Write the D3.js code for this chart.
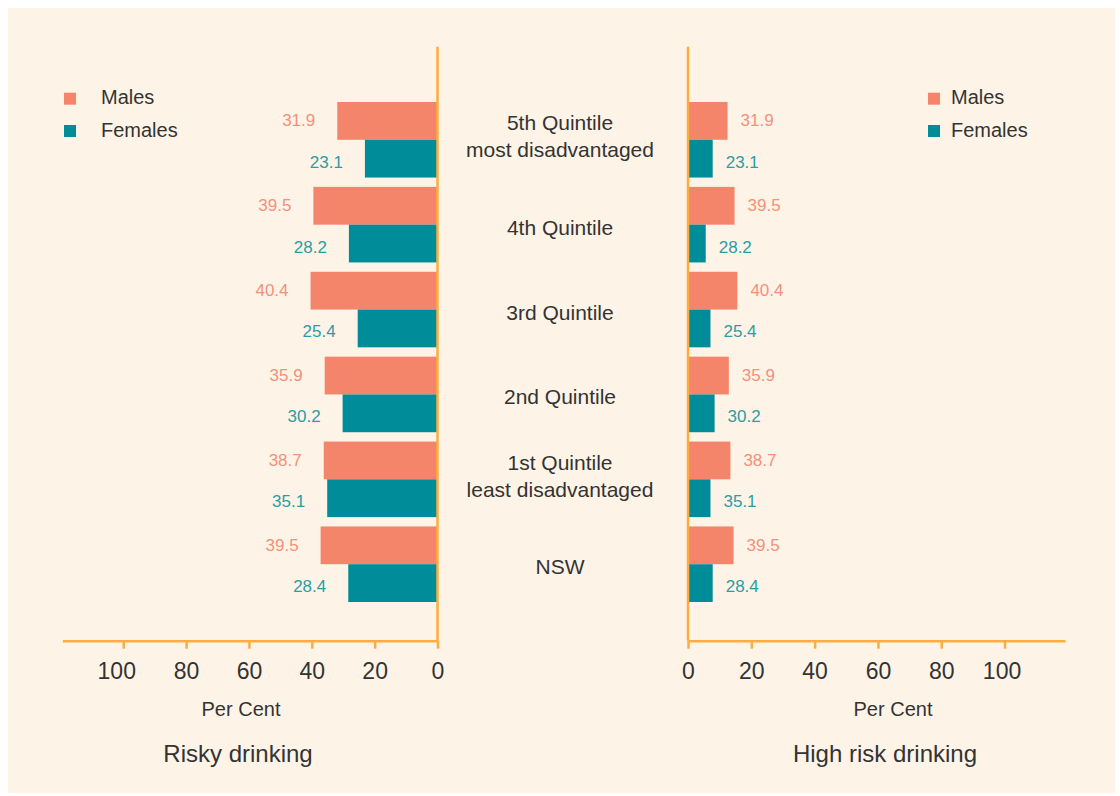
<!DOCTYPE html>
<html>
<head>
<meta charset="utf-8">
<script src="https://cdn.jsdelivr.net/npm/d3@7/dist/d3.min.js"></script>
<style>
  html, body { margin: 0; padding: 0; background: #ffffff; }
  svg { display: block; }
  text { font-family: "Liberation Sans", Arial, Helvetica, sans-serif; }
</style>
</head>
<body>
<svg id="chart" width="1120" height="796"></svg>
<script>
// ---------- DATA ----------
const categories = ["5th", "4th", "3rd", "2nd", "1st", "NSW"];
const categoryLines = [
  ["5th Quintile", "most disadvantaged"],
  ["4th Quintile"],
  ["3rd Quintile"],
  ["2nd Quintile"],
  ["1st Quintile", "least disadvantaged"],
  ["NSW"]
];
const seriesNames = ["Males", "Females"];

// Risky drinking (left panel): bar lengths as drawn, and printed labels
const riskyMales   = [31.9, 39.5, 40.4, 35.9, 36.2, 37.2];
const riskyFemales = [23.1, 28.2, 25.4, 30.2, 35.1, 28.4];
const riskyMaleLabels   = ["31.9", "39.5", "40.4", "35.9", "38.7", "39.5"];
const riskyFemaleLabels = ["23.1", "28.2", "25.4", "30.2", "35.1", "28.4"];

// High risk drinking (right panel): bar lengths as drawn, and printed labels
const highMales   = [12.5, 14.7, 15.6, 12.9, 13.4, 14.4];
const highFemales = [7.8, 5.6, 7.1, 8.4, 7.1, 7.8];
const highMaleLabels   = ["31.9", "39.5", "40.4", "35.9", "38.7", "39.5"];
const highFemaleLabels = ["23.1", "28.2", "25.4", "30.2", "35.1", "28.4"];

const tickValues = [0, 20, 40, 60, 80, 100];
const axisTitle = "Per Cent";
const panelTitles = ["Risky drinking", "High risk drinking"];

// ---------- STYLE ----------
const C = {
  bg: "#FDF4E7",
  male: "#F5856A",
  female: "#008C98",
  maleText: "#F5907A",
  femaleText: "#2C9CA4",
  axis: "#FBAE3F",
  text: "#333333"
};

const svg = d3.select("#chart");

svg.append("rect")
  .attr("x", 8).attr("y", 8)
  .attr("width", 1107).attr("height", 785)
  .attr("fill", C.bg);

const y = d3.scaleBand()
  .domain(categories)
  .range([102, 602])
  .paddingInner(0.11)
  .paddingOuter(0);

const xL = d3.scaleLinear().domain([0, 119.4]).range([437.5, 62.3]);
const xR = d3.scaleLinear().domain([0, 119.1]).range([688, 1065]);
const axisY = 640.7;
const axisTop = 46.7;
const bh = y.bandwidth() / 2;

// ---------- BARS ----------
function drawPanel(x, males, females, maleLabels, femaleLabels, side) {
  const g = svg.append("g");
  const rows = categories.map((c, i) => ({
    c, m: males[i], f: females[i], ml: maleLabels[i], fl: femaleLabels[i]
  }));
  const bx = v => side === "left" ? x(v) : x(0);
  const bw = v => Math.abs(x(v) - x(0));

  g.selectAll("rect.m").data(rows).join("rect")
    .attr("x", d => bx(d.m)).attr("y", d => y(d.c))
    .attr("width", d => bw(d.m)).attr("height", bh)
    .attr("fill", C.male);
  g.selectAll("rect.f").data(rows).join("rect")
    .attr("x", d => bx(d.f)).attr("y", d => y(d.c) + bh)
    .attr("width", d => bw(d.f)).attr("height", bh)
    .attr("fill", C.female);

  const lx = v => side === "left" ? x(v) - 22 : x(v) + 13;
  const anchor = side === "left" ? "end" : "start";
  g.selectAll("text.m").data(rows).join("text")
    .attr("x", d => lx(d.m)).attr("y", d => y(d.c) + bh / 2 + 5.5)
    .attr("text-anchor", anchor)
    .attr("font-size", 17).attr("fill", C.maleText)
    .text(d => d.ml);
  g.selectAll("text.f").data(rows).join("text")
    .attr("x", d => lx(d.f)).attr("y", d => y(d.c) + bh * 1.5 + 9)
    .attr("text-anchor", anchor)
    .attr("font-size", 17).attr("fill", C.femaleText)
    .text(d => d.fl);

  // axis
  const axis = d3.axisBottom(x).tickValues(tickValues).tickSizeInner(8).tickSizeOuter(0);
  const ag = svg.append("g").attr("transform", `translate(0,${axisY})`).call(axis);
  ag.select(".domain").attr("stroke", C.axis).attr("stroke-width", 2.5);
  ag.selectAll(".tick line").attr("stroke", C.axis).attr("stroke-width", 2.5);
  ag.selectAll(".tick text")
    .attr("y", 38.5).attr("dy", null)
    .attr("dx", d => d === 100 ? (side === "left" ? -7 : -3) : 0)
    .attr("font-size", 23).attr("fill", C.text)
    .attr("font-family", "'Liberation Sans', Arial, sans-serif");

  // vertical axis line at 0
  svg.append("line")
    .attr("x1", x(0)).attr("x2", x(0))
    .attr("y1", axisTop).attr("y2", axisY)
    .attr("stroke", C.axis).attr("stroke-width", 2.5);
}

drawPanel(xL, riskyMales, riskyFemales, riskyMaleLabels, riskyFemaleLabels, "left");
drawPanel(xR, highMales, highFemales, highMaleLabels, highFemaleLabels, "right");

// ---------- CATEGORY LABELS ----------
const cx = 560;
const catG = svg.append("g");
categories.forEach((c, i) => {
  const lines = categoryLines[i];
  const mid = y(c) + y.bandwidth() / 2;
  const offsets = lines.length === 1 ? [10] : [-9.5, 17.5];
  lines.forEach((t, j) => {
    catG.append("text")
      .attr("x", cx).attr("y", mid + offsets[j])
      .attr("text-anchor", "middle")
      .attr("font-size", 21).attr("fill", C.text)
      .text(t);
  });
});

// ---------- LEGENDS ----------
function legend(sqX, txtX) {
  const g = svg.append("g");
  const ys = [92.7, 125];
  const cols = [C.male, C.female];
  seriesNames.forEach((n, i) => {
    g.append("rect").attr("x", sqX).attr("y", ys[i])
      .attr("width", 12).attr("height", 12).attr("fill", cols[i]);
    g.append("text").attr("x", txtX).attr("y", ys[i] + 11.5)
      .attr("font-size", 20).attr("fill", C.text).text(n);
  });
}
legend(64, 101);
legend(928, 951);

// ---------- TITLES ----------
svg.append("text").attr("x", 241).attr("y", 716).attr("text-anchor", "middle")
  .attr("font-size", 20).attr("fill", C.text).text(axisTitle);
svg.append("text").attr("x", 893).attr("y", 716).attr("text-anchor", "middle")
  .attr("font-size", 20).attr("fill", C.text).text(axisTitle);
svg.append("text").attr("x", 238).attr("y", 762).attr("text-anchor", "middle")
  .attr("font-size", 24).attr("fill", C.text).text(panelTitles[0]);
svg.append("text").attr("x", 885).attr("y", 762).attr("text-anchor", "middle")
  .attr("font-size", 24).attr("fill", C.text).text(panelTitles[1]);
</script>
</body>
</html>
